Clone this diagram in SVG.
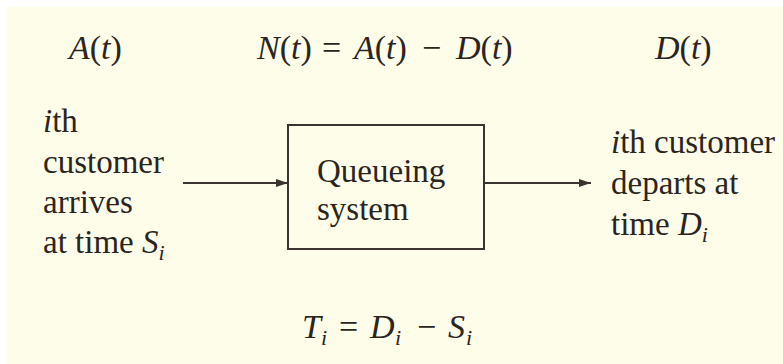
<svg xmlns="http://www.w3.org/2000/svg" width="783" height="364" viewBox="0 0 783 364">
<defs>
<style>
text{font-family:"Liberation Serif","Times New Roman",serif;font-size:33px;fill:#2b2522}
.math{font-size:34px}
.it{font-style:italic}
.sub{font-size:22px;font-style:italic}
.box{fill:none;stroke:#3a3330;stroke-width:2}
.edge{stroke:#3a3330;stroke-width:2;fill:none}
</style>
<marker id="ah" viewBox="0 0 12 8" refX="12" refY="4" markerWidth="12" markerHeight="8" markerUnits="userSpaceOnUse" orient="auto">
<path d="M0,0 L12,4 L0,8 Z" fill="#3a3330"/>
</marker>
</defs>
<rect x="5" y="7" width="778" height="357" fill="#FEFDEA"/>
<g id="labels-top">
<text class="math" y="59"><tspan x="69" class="it">A</tspan>(<tspan class="it">t</tspan>)</text>
<text class="math" y="59"><tspan x="257" class="it">N</tspan>(<tspan class="it">t</tspan>)<tspan x="322">=</tspan><tspan x="354" class="it">A</tspan>(<tspan class="it">t</tspan>)<tspan x="422">−</tspan><tspan x="456" class="it">D</tspan>(<tspan class="it">t</tspan>)</text>
<text class="math" y="59"><tspan x="655" class="it">D</tspan>(<tspan class="it">t</tspan>)</text>
</g>
<g id="arrival">
<text x="43" y="132"><tspan class="it">i</tspan>th</text>
<text x="43" y="173">customer</text>
<text x="43" y="213">arrives</text>
<text x="43" y="253">at time <tspan class="it">S</tspan><tspan class="sub" dy="7">i</tspan></text>
</g>
<g id="queue">
<rect class="box" x="288" y="125" width="196" height="124"/>
<text x="317" y="182">Queueing</text>
<text x="317" y="220">system</text>
</g>
<g id="departure">
<text x="611" y="153"><tspan class="it">i</tspan>th customer</text>
<text x="611" y="194">departs at</text>
<text x="611" y="235">time <tspan class="it">D</tspan><tspan class="sub" dy="7">i</tspan></text>
</g>
<g id="connectors">
<line class="edge" x1="183" y1="183" x2="288" y2="183" marker-end="url(#ah)"/>
<line class="edge" x1="484" y1="183" x2="591" y2="183" marker-end="url(#ah)"/>
</g>
<g id="formula">
<text class="math" y="338"><tspan x="302" class="it">T</tspan><tspan x="321" y="345" class="sub">i</tspan><tspan x="339" y="338">=</tspan><tspan x="370" class="it">D</tspan><tspan x="395" y="345" class="sub">i</tspan><tspan x="417" y="338">−</tspan><tspan x="448" class="it">S</tspan><tspan x="466" y="345" class="sub">i</tspan></text>
</g>
</svg>
